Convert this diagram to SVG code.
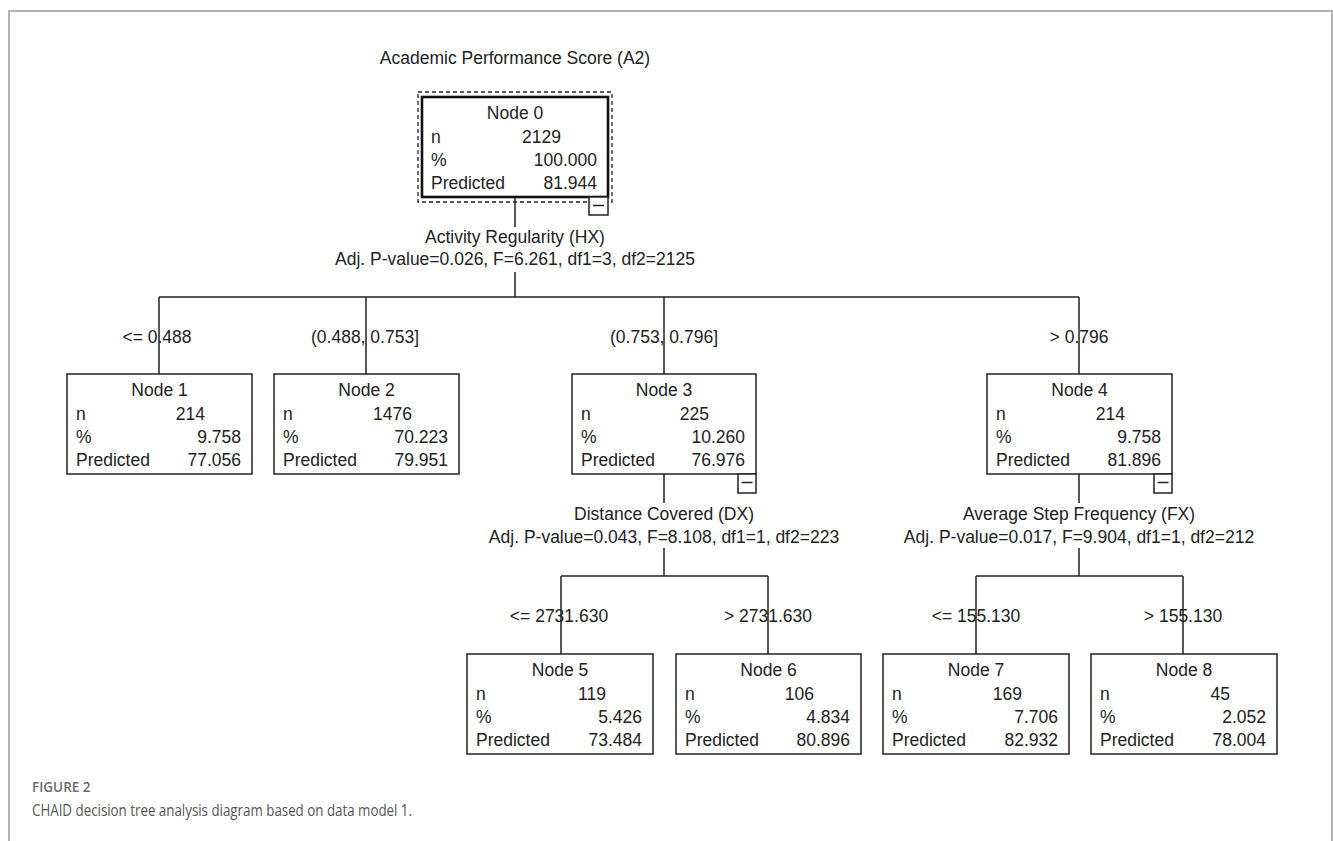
<svg xmlns="http://www.w3.org/2000/svg" width="1333" height="841" viewBox="0 0 1333 841">
<style>
.t{font-family:"Liberation Sans",Arial,sans-serif;font-size:17.5px;fill:#222}
.c{text-anchor:middle}
.r{text-anchor:end}
.box{fill:#fff;stroke:#222;stroke-width:1.5}
.ln{fill:none;stroke:#222;stroke-width:1.5}
.cap1{font-family:"Open Sans","Liberation Sans",sans-serif;font-size:13.5px;font-weight:600;fill:#6b6b6b}
.cap2{font-family:"Open Sans","Liberation Sans",sans-serif;font-size:17px;fill:#555}
</style>
<g id="frame"><path d="M9,841 V11 H1332 V841" fill="none" stroke="#9a9a9a" stroke-width="1.5"/></g>
<text id="title" class="t c" x="515" y="64">Academic Performance Score (A2)</text>
<g id="connectors">
<path class="ln" d="M515,197 V227 M515,272 V297 M159,297 H1079 M159,297 V374 M366,297 V374 M664,297 V374 M1079,297 V374"/>
<path class="ln" d="M664,474 V503 M664,548 V576 M561,576 H768 M561,576 V654 M768,576 V654"/>
<path class="ln" d="M1079,474 V503 M1079,548 V576 M976,576 H1183 M976,576 V654 M1183,576 V654"/>
<rect x="120" y="326" width="78" height="20" fill="none"/>
<text class="t c" x="157" y="343">&lt;= 0.488</text>
<text class="t c" x="365" y="343">(0.488, 0.753]</text>
<text class="t c" x="664" y="343">(0.753, 0.796]</text>
<text class="t c" x="1079" y="343">&gt; 0.796</text>
<text class="t c" x="515" y="243">Activity Regularity (HX)</text>
<text class="t c" x="515" y="265">Adj. P-value=0.026, F=6.261, df1=3, df2=2125</text>
<text class="t c" x="664" y="520">Distance Covered (DX)</text>
<text class="t c" x="664" y="543">Adj. P-value=0.043, F=8.108, df1=1, df2=223</text>
<text class="t c" x="1079" y="520">Average Step Frequency (FX)</text>
<text class="t c" x="1079" y="543">Adj. P-value=0.017, F=9.904, df1=1, df2=212</text>
<text class="t c" x="559" y="622">&lt;= 2731.630</text>
<text class="t c" x="768" y="622">&gt; 2731.630</text>
<text class="t c" x="976" y="622">&lt;= 155.130</text>
<text class="t c" x="1183" y="622">&gt; 155.130</text>
</g>
<g id="node0">
<rect x="418" y="92" width="194" height="110" fill="none" stroke="#222" stroke-width="1.3" stroke-dasharray="4,3"/>
<rect x="422" y="97" width="186" height="100" fill="#fff" stroke="#111" stroke-width="2.6"/>
<rect x="589" y="197" width="19" height="18" class="box"/>
<path class="ln" d="M593,205.5 H604"/>
<text class="t c" x="515" y="119">Node 0</text>
<text class="t" x="431" y="142.5">n</text><text class="t r" x="561" y="142.5">2129</text>
<text class="t" x="431" y="166">%</text><text class="t r" x="597" y="166">100.000</text>
<text class="t" x="431" y="189">Predicted</text><text class="t r" x="597" y="189">81.944</text>
</g>
<g id="node1">
<rect x="67" y="374" width="185" height="100" class="box"/>
<text class="t c" x="159.5" y="396">Node 1</text>
<text class="t" x="76" y="419.5">n</text><text class="t r" x="205" y="419.5">214</text>
<text class="t" x="76" y="443">%</text><text class="t r" x="241" y="443">9.758</text>
<text class="t" x="76" y="466">Predicted</text><text class="t r" x="241" y="466">77.056</text>
</g>
<g id="node2">
<rect x="274" y="374" width="185" height="100" class="box"/>
<text class="t c" x="366.5" y="396">Node 2</text>
<text class="t" x="283" y="419.5">n</text><text class="t r" x="412" y="419.5">1476</text>
<text class="t" x="283" y="443">%</text><text class="t r" x="448" y="443">70.223</text>
<text class="t" x="283" y="466">Predicted</text><text class="t r" x="448" y="466">79.951</text>
</g>
<g id="node3">
<rect x="572" y="374" width="184" height="100" class="box"/>
<rect x="738" y="474" width="18" height="19" class="box"/>
<path class="ln" d="M741.5,482.5 H752.5"/>
<text class="t c" x="664" y="396">Node 3</text>
<text class="t" x="581" y="419.5">n</text><text class="t r" x="709" y="419.5">225</text>
<text class="t" x="581" y="443">%</text><text class="t r" x="745" y="443">10.260</text>
<text class="t" x="581" y="466">Predicted</text><text class="t r" x="745" y="466">76.976</text>
</g>
<g id="node4">
<rect x="987" y="374" width="185" height="100" class="box"/>
<rect x="1154" y="474" width="18" height="19" class="box"/>
<path class="ln" d="M1157.5,482.5 H1168.5"/>
<text class="t c" x="1079.5" y="396">Node 4</text>
<text class="t" x="996" y="419.5">n</text><text class="t r" x="1125" y="419.5">214</text>
<text class="t" x="996" y="443">%</text><text class="t r" x="1161" y="443">9.758</text>
<text class="t" x="996" y="466">Predicted</text><text class="t r" x="1161" y="466">81.896</text>
</g>
<g id="node5">
<rect x="467" y="654" width="186" height="100" class="box"/>
<text class="t c" x="560" y="676">Node 5</text>
<text class="t" x="476" y="699.5">n</text><text class="t r" x="606" y="699.5">119</text>
<text class="t" x="476" y="723">%</text><text class="t r" x="642" y="723">5.426</text>
<text class="t" x="476" y="746">Predicted</text><text class="t r" x="642" y="746">73.484</text>
</g>
<g id="node6">
<rect x="676" y="654" width="185" height="100" class="box"/>
<text class="t c" x="768.5" y="676">Node 6</text>
<text class="t" x="685" y="699.5">n</text><text class="t r" x="814" y="699.5">106</text>
<text class="t" x="685" y="723">%</text><text class="t r" x="850" y="723">4.834</text>
<text class="t" x="685" y="746">Predicted</text><text class="t r" x="850" y="746">80.896</text>
</g>
<g id="node7">
<rect x="883" y="654" width="186" height="100" class="box"/>
<text class="t c" x="976" y="676">Node 7</text>
<text class="t" x="892" y="699.5">n</text><text class="t r" x="1022" y="699.5">169</text>
<text class="t" x="892" y="723">%</text><text class="t r" x="1058" y="723">7.706</text>
<text class="t" x="892" y="746">Predicted</text><text class="t r" x="1058" y="746">82.932</text>
</g>
<g id="node8">
<rect x="1091" y="654" width="186" height="100" class="box"/>
<text class="t c" x="1184" y="676">Node 8</text>
<text class="t" x="1100" y="699.5">n</text><text class="t r" x="1230" y="699.5">45</text>
<text class="t" x="1100" y="723">%</text><text class="t r" x="1266" y="723">2.052</text>
<text class="t" x="1100" y="746">Predicted</text><text class="t r" x="1266" y="746">78.004</text>
</g>
<g id="caption">
<text class="cap1" x="32" y="792">FIGURE 2</text>
<text class="cap2" x="32" y="816" textLength="380" lengthAdjust="spacingAndGlyphs">CHAID decision tree analysis diagram based on data model 1.</text>
</g>
</svg>
